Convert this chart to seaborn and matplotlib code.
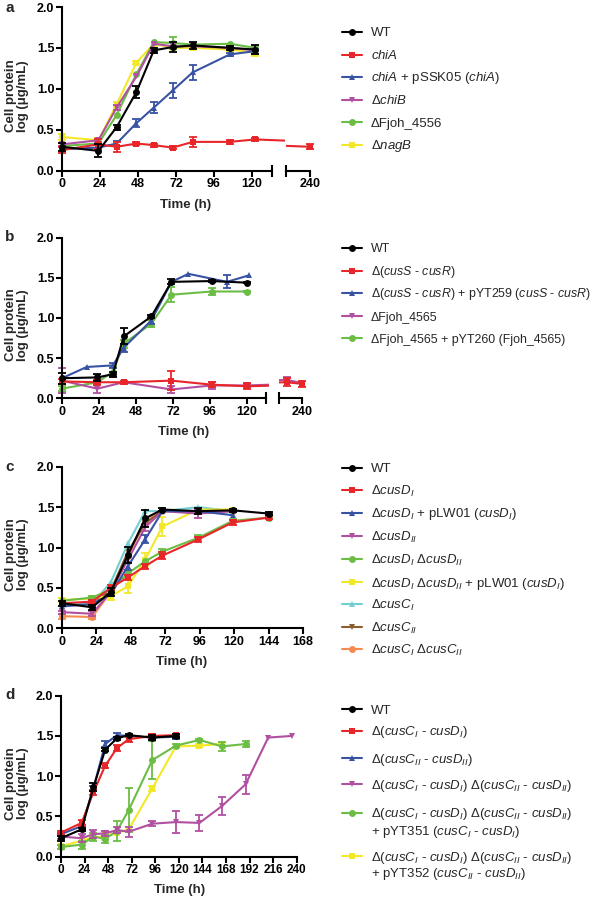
import numpy as np
import matplotlib
matplotlib.use("Agg")
import matplotlib.pyplot as plt
from matplotlib.lines import Line2D
from matplotlib.ticker import FixedLocator
import seaborn as sns

# ─────────────────────────────────────────────────────────────────────────────
# Data
# ─────────────────────────────────────────────────────────────────────────────

# panel a
a_t = [0, 23, 34.5, 47, 58, 70, 82.5, 106, 122]
a_t_chia = [0, 23, 34.5, 47, 58, 70, 82.5, 106, 122, 240]
a_wt = [0.29, 0.24, 0.53, 0.96, 1.47, 1.51, 1.53, 1.50, 1.48]
a_wt_err = [0.05, 0.08, 0.03, 0.07, 0.03, 0.06, 0.04, 0.02, 0.05]
a_chia = [0.25, 0.32, 0.29, 0.33, 0.31, 0.28, 0.35, 0.35, 0.38, 0.29]
a_chia_err = [0.04, 0.06, 0.06, 0.02, 0.02, 0.02, 0.06, 0.02, 0.02, 0.03]
a_comp = [0.26, 0.28, 0.33, 0.58, 0.77, 0.98, 1.20, 1.42, 1.46]
a_comp_err = [0, 0, 0.03, 0.05, 0.07, 0.09, 0.09, 0.02, 0.03]
a_chib = [0.32, 0.37, 0.77, 1.15, 1.55, 1.52, 1.52, 1.50, 1.47]
a_chib_err = [0.02, 0.02, 0.03, 0, 0, 0, 0, 0, 0]
a_fjoh = [0.30, 0.33, 0.68, 1.18, 1.57, 1.56, 1.54, 1.55, 1.50]
a_fjoh_err = [0, 0, 0, 0, 0, 0.07, 0, 0, 0.02]
a_nagb = [0.41, 0.37, 0.81, 1.32, 1.55, 1.50, 1.50, 1.48, 1.44]
a_nagb_err = [0.04, 0.03, 0.03, 0.02, 0, 0, 0, 0.02, 0.04]

# panel b
b_t_wt = [0, 23, 33, 40, 58, 71, 97, 120]
b_wt = [0.25, 0.26, 0.30, 0.77, 1.02, 1.45, 1.46, 1.44]
b_wt_err = [0.07, 0.04, 0.03, 0.10, 0.02, 0.03, 0.01, 0.01]
b_t_rs = [0, 23, 40, 71, 97, 120, 230, 240]
b_rs = [0.21, 0.20, 0.20, 0.22, 0.17, 0.15, 0.20, 0.18]
b_rs_err = [0.03, 0.03, 0.02, 0.12, 0.03, 0.04, 0.05, 0.04]
b_t_comp = [0, 16, 33, 40, 58, 71, 82, 107, 121]
b_comp = [0.25, 0.39, 0.41, 0.63, 0.97, 1.45, 1.55, 1.45, 1.53]
b_comp_err = [0, 0, 0.03, 0.05, 0.05, 0, 0, 0.08, 0]
b_t_4565 = [0, 23, 40, 71, 97, 120, 230, 240]
b_4565 = [0.22, 0.12, 0.20, 0.11, 0.16, 0.16, 0.23, 0.19]
b_4565_err = [0.16, 0.06, 0, 0.04, 0.04, 0.02, 0.03, 0]
b_t_4565c = [0, 23, 33, 40, 58, 71, 97, 120]
b_4565c = [0.12, 0.20, 0.33, 0.68, 0.93, 1.29, 1.33, 1.33]
b_4565c_err = [0.03, 0.03, 0.06, 0.05, 0.04, 0.09, 0.04, 0.01]

# panel c
c_t = [0, 21, 34, 46, 58, 70, 95, 119, 144]
c_t_short = [0, 21, 34, 46, 58, 70, 95, 119]
c_wt = [0.31, 0.26, 0.45, 0.91, 1.36, 1.47, 1.45, 1.46, 1.42]
c_wt_err = [0.03, 0.03, 0.05, 0.10, 0.11, 0.02, 0.04, 0.02, 0.02]
c_d1 = [0.31, 0.33, 0.50, 0.63, 0.77, 0.90, 1.10, 1.31, 1.37]
c_d1_err = [0, 0.02, 0.03, 0.03, 0.03, 0.04, 0.03, 0.03, 0.02]
c_d1c = [0.27, 0.30, 0.42, 0.77, 1.10, 1.45, 1.45, 1.40]
c_d1c_err = [0, 0, 0, 0.05, 0.05, 0, 0, 0]
c_d2 = [0.20, 0.18, 0.45, 0.85, 1.25, 1.45, 1.42, 1.45]
c_d2_err = [0.02, 0.03, 0, 0, 0.04, 0, 0.06, 0]
c_d12 = [0.34, 0.38, 0.48, 0.68, 0.83, 0.95, 1.12, 1.33, 1.37]
c_d12_err = [0, 0.02, 0, 0, 0, 0.03, 0.03, 0.02, 0]
c_d12c = [0.35, 0.37, 0.40, 0.52, 0.85, 1.26, 1.47, 1.47]
c_d12c_err = [0.02, 0.02, 0.05, 0.08, 0.08, 0.12, 0, 0]
c_c1 = [0.30, 0.30, 0.57, 1.05, 1.45, 1.45, 1.50, 1.45]
c_c2 = [0.30, 0.30, 0.47, 0.95, 1.30, 1.45, 1.45, 1.45]
c_c12 = [0.15, 0.14, 0.45, 0.90, 1.32, 1.45, 1.45, 1.45]
c_c12_err = [0.03, 0.03, 0, 0, 0, 0, 0, 0]
c_no_err = [0, 0, 0, 0, 0, 0, 0, 0]

# panel d
d_t_wt = [0, 21, 33, 45, 57, 69, 93, 117]
d_t_all = [0, 21, 33, 45, 57, 69, 93, 117, 141, 164, 188, 211, 235]
d_t_351 = [0, 21, 33, 45, 57, 69, 93, 117, 141, 164, 188]
d_t_352 = [0, 21, 33, 45, 57, 69, 93, 117, 141, 164]
d_wt = [0.23, 0.34, 0.86, 1.33, 1.47, 1.51, 1.48, 1.50]
d_wt_err = [0.03, 0.02, 0.05, 0.02, 0.02, 0.01, 0.03, 0.02]
d_cd1 = [0.30, 0.42, 0.80, 1.13, 1.35, 1.46, 1.50, 1.51]
d_cd1_err = [0.02, 0.04, 0.03, 0.03, 0.04, 0.03, 0.03, 0.02]
d_cd2 = [0.28, 0.38, 0.85, 1.40, 1.51, 1.50, 1.48, 1.49]
d_cd2_err = [0.02, 0.02, 0.03, 0.04, 0.03, 0, 0.03, 0.03]
d_dbl = [0.25, 0.23, 0.28, 0.29, 0.33, 0.31, 0.41, 0.43, 0.42, 0.63, 0.90, 1.48, 1.50]
d_dbl_err = [0.03, 0.05, 0.05, 0.03, 0.04, 0.06, 0.03, 0.14, 0.10, 0.11, 0.12, 0, 0]
d_351 = [0.12, 0.15, 0.25, 0.22, 0.32, 0.58, 1.20, 1.38, 1.45, 1.37, 1.40]
d_351_err = [0.02, 0.05, 0.05, 0.05, 0.12, 0.27, 0.24, 0.02, 0.01, 0.06, 0.04]
d_352 = [0.13, 0.20, 0.24, 0.25, 0.30, 0.34, 0.85, 1.37, 1.38, 1.40]
d_352_err = [0, 0, 0, 0.04, 0, 0, 0.03, 0, 0.02, 0.03]

# ─────────────────────────────────────────────────────────────────────────────
# Style
# ─────────────────────────────────────────────────────────────────────────────
sns.set_style("ticks", {"axes.edgecolor": "black", "xtick.color": "black",
                        "ytick.color": "black"})
plt.rcParams["font.family"] = ["Liberation Sans", "DejaVu Sans"]
plt.rcParams["mathtext.fontset"] = "custom"
plt.rcParams["mathtext.rm"] = "Liberation Sans"
plt.rcParams["mathtext.it"] = "Liberation Sans:italic"
plt.rcParams["mathtext.bf"] = "Liberation Sans:bold"

COL = {"k": "#000000", "r": "#e8262a", "b": "#3953a4", "m": "#b14fa1",
       "g": "#6bbd45", "y": "#f3e827", "c": "#72d0d3", "br": "#8c5b2e",
       "o": "#f68b4f"}

cusCI, cusCII = r"$\mathit{cusC}_{I}$", r"$\mathit{cusC}_{II}$"
cusDI, cusDII = r"$\mathit{cusD}_{I}$", r"$\mathit{cusD}_{II}$"
dbl = f"Δ({cusCI} - {cusDI}) Δ({cusCII} - {cusDII})"

series_a = [
    ("WT", "k", "o", a_t, a_wt, a_wt_err),
    (r"$\mathit{chiA}$", "r", "s", a_t_chia, a_chia, a_chia_err),
    (r"$\mathit{chiA}$ + pSSK05 ($\mathit{chiA}$)", "b", "^", a_t, a_comp, a_comp_err),
    (r"Δ$\mathit{chiB}$", "m", "v", a_t, a_chib, a_chib_err),
    ("ΔFjoh_4556", "g", "o", a_t, a_fjoh, a_fjoh_err),
    (r"Δ$\mathit{nagB}$", "y", "s", a_t, a_nagb, a_nagb_err),
]
series_b = [
    ("WT", "k", "o", b_t_wt, b_wt, b_wt_err),
    (r"Δ($\mathit{cusS}$ - $\mathit{cusR}$)", "r", "s", b_t_rs, b_rs, b_rs_err),
    (r"Δ($\mathit{cusS}$ - $\mathit{cusR}$) + pYT259 ($\mathit{cusS}$ - $\mathit{cusR}$)",
     "b", "^", b_t_comp, b_comp, b_comp_err),
    ("ΔFjoh_4565", "m", "v", b_t_4565, b_4565, b_4565_err),
    ("ΔFjoh_4565 + pYT260 (Fjoh_4565)", "g", "o", b_t_4565c, b_4565c, b_4565c_err),
]
series_c = [
    ("WT", "k", "o", c_t, c_wt, c_wt_err),
    (f"Δ{cusDI}", "r", "s", c_t, c_d1, c_d1_err),
    (f"Δ{cusDI} + pLW01 ({cusDI})", "b", "^", c_t_short, c_d1c, c_d1c_err),
    (f"Δ{cusDII}", "m", "v", c_t_short, c_d2, c_d2_err),
    (f"Δ{cusDI} Δ{cusDII}", "g", "o", c_t, c_d12, c_d12_err),
    (f"Δ{cusDI} Δ{cusDII} + pLW01 ({cusDI})", "y", "s", c_t_short, c_d12c, c_d12c_err),
    (f"Δ{cusCI}", "c", "^", c_t_short, c_c1, c_no_err),
    (f"Δ{cusCII}", "br", "v", c_t_short, c_c2, c_no_err),
    (f"Δ{cusCI} Δ{cusCII}", "o", "o", c_t_short, c_c12, c_c12_err),
]
series_d = [
    ("WT", "k", "o", d_t_wt, d_wt, d_wt_err),
    (f"Δ({cusCI} - {cusDI})", "r", "s", d_t_wt, d_cd1, d_cd1_err),
    (f"Δ({cusCII} - {cusDII})", "b", "^", d_t_wt, d_cd2, d_cd2_err),
    (dbl, "m", "v", d_t_all, d_dbl, d_dbl_err),
    (dbl + f"\n+ pYT351 ({cusCI} - {cusDI})", "g", "o", d_t_351, d_351, d_351_err),
    (dbl + f"\n+ pYT352 ({cusCII} - {cusDII})", "y", "s", d_t_352, d_352, d_352_err),
]

# ─────────────────────────────────────────────────────────────────────────────
# Figure helpers (geometry in pixels of the 597 x 898 canvas)
# ─────────────────────────────────────────────────────────────────────────────
W, H = 597, 898
fig = plt.figure(figsize=(W / 100, H / 100), dpi=100)


def add_ax(x_left, y_top, y_bot, xlim, ppu):
    width = (xlim[1] - xlim[0]) * ppu
    ax = fig.add_axes([x_left / W, 1 - y_bot / H, width / W, (y_bot - y_top) / H])
    ax.set_facecolor("none")
    return ax


def style_ax(ax, xlim, bounds, ticks, show_y=True, end_marks=()):
    ax.set_xlim(*xlim)
    ax.set_ylim(0, 2)
    ax.spines[["top", "right"]].set_visible(False)
    for s in ("left", "bottom"):
        ax.spines[s].set_linewidth(1.5)
    ax.spines["bottom"].set_bounds(*bounds)
    if show_y:
        ax.spines["left"].set_position(("data", 0))
        yt = [0, 0.5, 1.0, 1.5, 2.0]
        ax.set_yticks(yt, [f"{v:.1f}" for v in yt], fontweight="bold", fontsize=9)
    else:
        ax.spines["left"].set_visible(False)
        ax.set_yticks([])
    ax.set_xticks(ticks, [str(t) for t in ticks], fontweight="bold", fontsize=9)
    ax.xaxis.set_minor_locator(FixedLocator(list(end_marks)))
    ax.tick_params(which="major", direction="out", length=4, width=1.5, pad=1.5)
    ax.tick_params(axis="x", which="minor", direction="inout", length=8, width=1.5)
    ax.set_xlabel("")
    ax.set_ylabel("")


def draw_series(ax, series):
    for label, ck, mk, t, v, e in reversed(series):
        t, v, e = np.asarray(t, float), np.asarray(v, float), np.asarray(e, float)
        sns.lineplot(x=t, y=v, ax=ax, color=COL[ck], marker=mk, markersize=5,
                     markeredgewidth=0, linewidth=1.5, sort=False, legend=False,
                     errorbar=None)
        m = e > 0
        ax.errorbar(t[m], v[m], yerr=e[m], fmt="none", ecolor=COL[ck],
                    elinewidth=1.3, capsize=3, capthick=1.3)


def draw_key(series, x_px, rows, size=9.5):
    for (label, ck, mk, *_), y in zip(series, rows):
        yf = 1 - y / H
        fig.add_artist(Line2D([x_px / W, (x_px + 10) / W, (x_px + 20) / W], [yf] * 3,
                              transform=fig.transFigure, color=COL[ck], lw=1.5,
                              marker=mk, markersize=5, markeredgewidth=0,
                              markevery=[1]))
        for i, line in enumerate(label.split("\n")):
            fig.text((x_px + 29) / W, 1 - (y + 4.5 + i * 17) / H, line,
                     fontsize=size, va="baseline", ha="left")


def panel_text(letter, y_letter, y_top, y_bot, x_mid, y_time):
    fig.text(5 / W, 1 - y_letter / H, letter, fontsize=11, fontweight="bold",
             va="center", ha="left")
    fig.text(17 / W, 1 - ((y_top + y_bot) / 2 + 7) / H, "Cell protein\nlog (μg/mL)",
             rotation=90, fontsize=9.5, fontweight="bold", ha="center",
             va="center", multialignment="center", linespacing=1.0)
    fig.text(x_mid / W, 1 - y_time / H, "Time (h)", fontsize=9.5,
             fontweight="bold", ha="center", va="center")


# ── panel a (broken x axis) ─────────────────────────────────────────────────
ppu = 38 / 24
ax = add_ax(62 - 3 * ppu, 7, 170.5, (-3, 141), ppu)
draw_series(ax, series_a)
style_ax(ax, (-3, 141), (0, 132.6), [0, 24, 48, 72, 96, 120], end_marks=[132.6])
ax = add_ax(286, 7, 170.5, (224.8, 243), ppu)
draw_series(ax, series_a)
style_ax(ax, (224.8, 243), (224.8, 240), [240], show_y=False, end_marks=[224.8])
panel_text("a", 8, 7, 170.5, 186, 205)
draw_key(series_a, 342, [32, 54.5, 77, 99.5, 122, 145])

# ── panel b (broken x axis) ─────────────────────────────────────────────────
ppu = 37 / 24
ax = add_ax(62 - 3 * ppu, 237.7, 398.3, (-3, 134), ppu)
draw_series(ax, series_b)
style_ax(ax, (-3, 134), (0, 132.3), [0, 24, 48, 72, 96, 120], end_marks=[132.3])
ax = add_ax(279, 237.7, 398.3, (225.1, 243), ppu)
draw_series(ax, series_b)
style_ax(ax, (225.1, 243), (225.1, 240), [240], show_y=False, end_marks=[225.1])
panel_text("b", 237, 237.7, 398.3, 184, 432)
draw_key(series_b, 342, [248, 271, 293, 316, 338], size=8.9)

# ── panel c ─────────────────────────────────────────────────────────────────
ppu = 241 / 168
ax = add_ax(62 - 3 * ppu, 466.7, 628.3, (-3, 171), ppu)
draw_series(ax, series_c)
style_ax(ax, (-3, 171), (0, 168), list(range(0, 169, 24)))
panel_text("c", 467, 466.7, 628.3, 182, 662)
draw_key(series_c, 342, [468, 490.5, 513, 536, 559, 582, 604, 627, 649])

# ── panel d ─────────────────────────────────────────────────────────────────
ppu = 235.7 / 240
ax = add_ax(61 - 4 * ppu, 695.7, 856.7, (-4, 244), ppu)
draw_series(ax, series_d)
style_ax(ax, (-4, 244), (0, 240), list(range(0, 241, 24)))
ax.tick_params(axis="x", labelsize=8.5)
panel_text("d", 695, 695.7, 856.7, 180, 890)
draw_key(series_d, 342, [709, 731, 758, 784, 813, 856])

fig.savefig("out.png", dpi=100)
plt.close(fig)
